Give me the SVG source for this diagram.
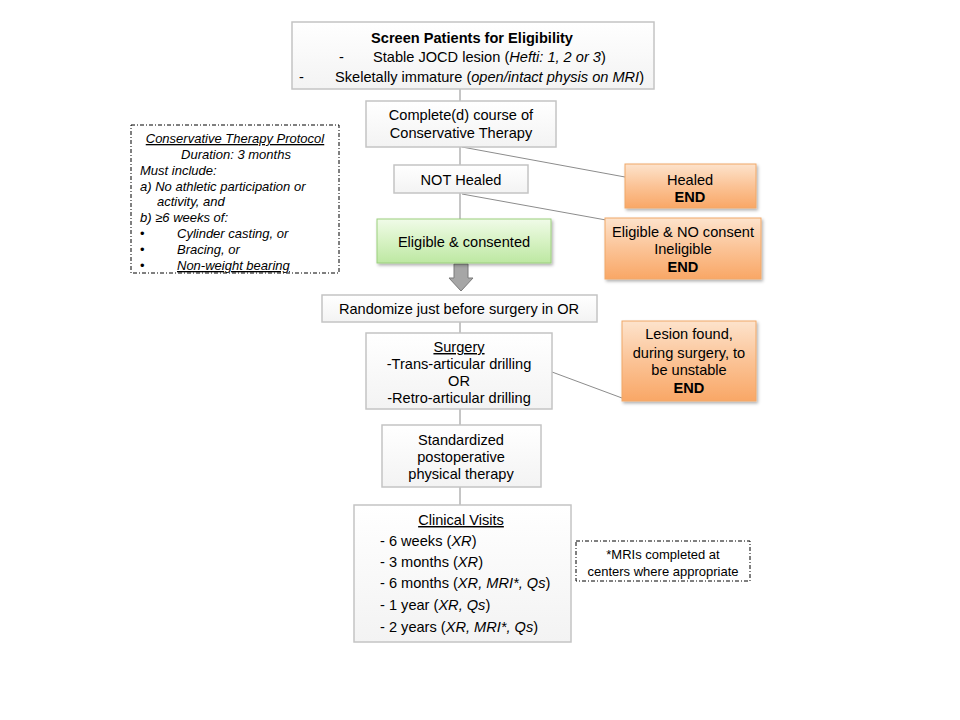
<svg xmlns="http://www.w3.org/2000/svg" width="960" height="720" viewBox="0 0 960 720">
<defs>
<linearGradient id="gw" x1="0" y1="0" x2="0" y2="1"><stop offset="0" stop-color="#ffffff"/><stop offset="1" stop-color="#f3f3f3"/></linearGradient>
<linearGradient id="go" x1="0" y1="0" x2="0" y2="1"><stop offset="0" stop-color="#fde3cc"/><stop offset="0.5" stop-color="#fbc396"/><stop offset="1" stop-color="#f9a766"/></linearGradient>
<linearGradient id="gg" x1="0" y1="0" x2="0" y2="1"><stop offset="0" stop-color="#f0fbe8"/><stop offset="0.5" stop-color="#d7f2c4"/><stop offset="1" stop-color="#bde8a2"/></linearGradient>
<filter id="sh" x="-10%" y="-10%" width="130%" height="140%"><feDropShadow dx="1.5" dy="2" stdDeviation="1.5" flood-color="#000" flood-opacity="0.3"/></filter>
</defs>
<style>
text{font-family:"Liberation Sans",Arial,sans-serif;font-size:14.6px;fill:#000}
.c{text-anchor:middle}
.b{font-weight:bold}
.i{font-style:italic}
.u{text-decoration:underline}
.s{font-size:13px}
.wb{fill:url(#gw);stroke:#c4c4c4;stroke-width:1.5}
.ob{fill:url(#go);stroke:#f0a868;stroke-width:1;filter:url(#sh)}
.gb{fill:url(#gg);stroke:#9ccf7f;stroke-width:1;filter:url(#sh)}
.dd{fill:#fff;stroke:#000;stroke-width:1;stroke-dasharray:4 2 1 2}
.ln{stroke:#8c8c8c;stroke-width:1;fill:none}
</style>
<rect width="960" height="720" fill="#fff"/>
<g id="connectors">
<line class="ln" x1="460" y1="89" x2="460" y2="101"/>
<line class="ln" x1="460" y1="147" x2="460" y2="165"/>
<line class="ln" x1="462" y1="147" x2="625" y2="177"/>
<line class="ln" x1="460" y1="193" x2="460" y2="219"/>
<line class="ln" x1="462" y1="194" x2="606" y2="220"/>
<line class="ln" x1="460" y1="322" x2="460" y2="333"/>
<line class="ln" x1="552" y1="372" x2="622" y2="398"/>
<line class="ln" x1="460" y1="409" x2="460" y2="425"/>
<line class="ln" x1="460" y1="487" x2="460" y2="505"/>
<path d="M454,264 H468 V278 H473 L461,291 L449,278 H454 Z" fill="#a6a6a6" stroke="#7a7a7a" stroke-width="1"/>
</g>
<g id="screen">
<rect class="wb" x="292" y="22" width="362" height="67"/>
<text class="c b" x="472" y="43">Screen Patients for Eligibility</text>
<text x="339" y="62">-</text>
<text x="373" y="62">Stable JOCD lesion (<tspan class="i">Hefti: 1, 2 or 3</tspan>)</text>
<text x="299" y="82">-</text>
<text x="335" y="82">Skeletally immature (<tspan class="i">open/intact physis on MRI</tspan>)</text>
</g>
<g id="conservative">
<rect class="wb" x="366" y="101" width="190" height="46"/>
<text class="c" x="461" y="120">Complete(d) course of</text>
<text class="c" x="461" y="138">Conservative Therapy</text>
</g>
<g id="protocol">
<rect class="dd" x="131" y="125" width="208" height="148"/>
<text class="c i u s" x="235" y="143">Conservative Therapy Protocol</text>
<text class="c i s" x="236" y="159">Duration: 3 months</text>
<text class="i s" x="140" y="175">Must include:</text>
<text class="i s" x="140" y="191">a) No athletic participation or</text>
<text class="i s" x="157" y="206">activity, and</text>
<text class="i s" x="140" y="222">b) ≥6 weeks of:</text>
<text class="s" x="140" y="238">•</text>
<text class="i s" x="177" y="238">Cylinder casting, or</text>
<text class="s" x="140" y="254">•</text>
<text class="i s" x="177" y="254">Bracing, or</text>
<text class="s" x="140" y="270">•</text>
<text class="i s u" x="177" y="270">Non-weight  bearing</text>
</g>
<g id="nothealed">
<rect class="wb" x="394" y="165" width="134" height="28"/>
<text class="c" x="461" y="185">NOT Healed</text>
</g>
<g id="healed">
<rect class="ob" x="625" y="164" width="131" height="44"/>
<text class="c" x="690" y="185">Healed</text>
<text class="c b" x="690" y="202">END</text>
</g>
<g id="eligible">
<rect class="gb" x="377" y="219" width="174" height="44"/>
<text class="c" x="464" y="247">Eligible  &amp; consented</text>
</g>
<g id="noconsent">
<rect class="ob" x="605" y="218" width="156" height="61"/>
<text class="c" x="683" y="237">Eligible  &amp; NO consent</text>
<text class="c" x="683" y="254">Ineligible</text>
<text class="c b" x="683" y="272">END</text>
</g>
<g id="randomize">
<rect class="wb" x="322" y="295" width="275" height="27"/>
<text class="c" x="459" y="314">Randomize just before surgery in OR</text>
</g>
<g id="surgery">
<rect class="wb" x="366" y="333" width="186" height="76"/>
<text class="c u" x="459" y="352">Surgery</text>
<text class="c" x="459" y="369">-Trans-articular drilling</text>
<text class="c" x="459" y="386">OR</text>
<text class="c" x="459" y="403">-Retro-articular drilling</text>
</g>
<g id="unstable">
<rect class="ob" x="622" y="321" width="134" height="80"/>
<text class="c" x="689" y="339">Lesion found,</text>
<text class="c" x="689" y="358">during surgery, to</text>
<text class="c" x="689" y="375">be unstable</text>
<text class="c b" x="689" y="393">END</text>
</g>
<g id="pt">
<rect class="wb" x="382" y="425" width="159" height="62"/>
<text class="c" x="461" y="445">Standardized</text>
<text class="c" x="461" y="462">postoperative</text>
<text class="c" x="461" y="479">physical therapy</text>
</g>
<g id="visits">
<rect class="wb" x="354" y="505" width="217" height="137"/>
<text class="c u" x="461" y="525">Clinical Visits</text>
<text x="380" y="546">- 6 weeks (<tspan class="i">XR</tspan>)</text>
<text x="380" y="567">- 3 months (<tspan class="i">XR</tspan>)</text>
<text x="380" y="588">- 6 months (<tspan class="i">XR, MRI*, Qs</tspan>)</text>
<text x="380" y="610">- 1 year (<tspan class="i">XR, Qs</tspan>)</text>
<text x="380" y="632">- 2 years (<tspan class="i">XR, MRI*, Qs</tspan>)</text>
</g>
<g id="mrinote">
<rect class="dd" x="576" y="541" width="174" height="40"/>
<text class="c s" x="663" y="559">*MRIs  completed at</text>
<text class="c s" x="663" y="576">centers where  appropriate</text>
</g>
</svg>
